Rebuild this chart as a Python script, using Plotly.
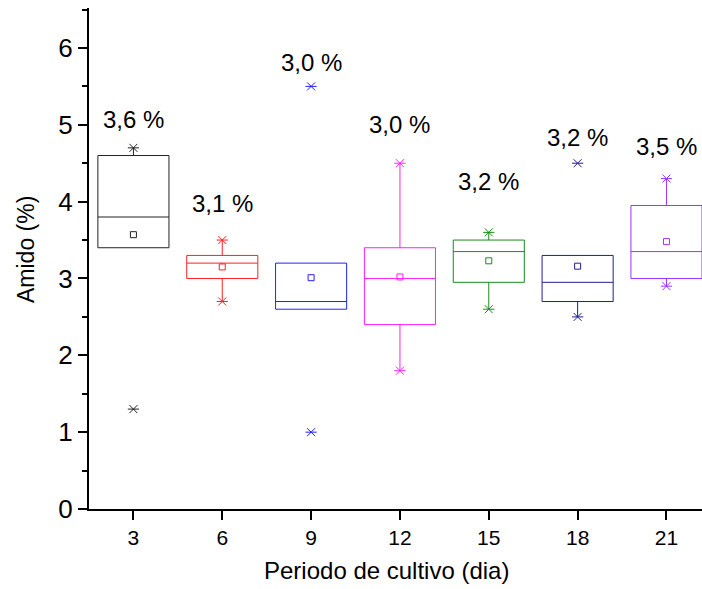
import plotly.graph_objects as go

days = [3, 6, 9, 12, 15, 18, 21]
q1 = [3.40, 3.00, 2.60, 2.40, 2.95, 2.70, 3.00]
median = [3.80, 3.20, 2.70, 3.00, 3.35, 2.95, 3.35]
q3 = [4.60, 3.30, 3.20, 3.40, 3.50, 3.30, 3.95]
lower_fence = [3.40, 2.70, 2.60, 1.80, 2.60, 2.50, 2.90]
upper_fence = [4.70, 3.50, 3.20, 4.50, 3.60, 3.30, 4.30]
means = [3.57, 3.15, 3.01, 3.02, 3.23, 3.16, 3.48]
data_min = [1.30, 2.70, 1.00, 1.80, 2.60, 2.50, 2.90]
data_max = [4.70, 3.50, 5.50, 4.50, 3.60, 4.50, 4.30]
labels = ["3,6 %", "3,1 %", "3,0 %", "3,0 %", "3,2 %", "3,2 %", "3,5 %"]
label_y = [5.07, 3.98, 5.81, 5.01, 4.26, 4.84, 4.72]
colors = ["#222222", "#ff2020", "#2020ff", "#ff20ff", "#1a8a1a", "#20208a", "#9a33ff"]

FONT = "Liberation Sans, Arial, sans-serif"

fig = go.Figure()
for i, d in enumerate(days):
    c = colors[i]
    fig.add_trace(go.Box(
        x=[d], q1=[q1[i]], median=[median[i]], q3=[q3[i]],
        lowerfence=[lower_fence[i]], upperfence=[upper_fence[i]],
        width=2.4, whiskerwidth=0, boxpoints=False,
        fillcolor="rgba(0,0,0,0)", line=dict(color=c, width=1),
        showlegend=False, hoverinfo="skip"))
    fig.add_trace(go.Scatter(
        x=[d], y=[means[i]], mode="markers", showlegend=False,
        marker=dict(symbol="square-open", size=6, color=c, line=dict(width=1, color=c))))
    for sym in ["x-thin-open", "line-ew-open"]:
        fig.add_trace(go.Scatter(
            x=[d, d], y=[data_min[i], data_max[i]], mode="markers", showlegend=False,
            marker=dict(symbol=sym, size=8, color=c, line=dict(width=1, color=c))))
    fig.add_annotation(x=d, y=label_y[i], text=labels[i], showarrow=False,
                       font=dict(family=FONT, size=24, color="black"))

# axis titles placed as annotations for exact positioning
fig.add_annotation(text="Periodo de cultivo (dia)", xref="paper", yref="paper",
                   x=(386 - 89) / 613, y=-(570 - 509) / 501, showarrow=False,
                   xanchor="center", yanchor="middle",
                   font=dict(family=FONT, size=24, color="black"))
fig.add_annotation(text="Amido (%)", xref="paper", yref="paper",
                   x=-(89 - 26) / 613, y=(509 - 250) / 501, showarrow=False,
                   textangle=-90, xanchor="center", yanchor="middle",
                   font=dict(family=FONT, size=23, color="black"))

fig.update_layout(
    width=702, height=589,
    margin=dict(l=89, r=0, t=8, b=80),
    plot_bgcolor="white", paper_bgcolor="white",
    font=dict(family=FONT, color="black"),
    xaxis=dict(
        range=[1.5, 22.2], tickmode="array", tickvals=days,
        ticktext=[str(d) for d in days],
        showgrid=False, zeroline=False, showline=True, linecolor="black", linewidth=2,
        ticks="outside", ticklen=9, tickwidth=2, tickcolor="black",
        tickfont=dict(size=21, family=FONT)),
    yaxis=dict(
        range=[0, 6.52], tickmode="array", tickvals=[0, 1, 2, 3, 4, 5, 6],
        showgrid=False, zeroline=False, showline=True, linecolor="black", linewidth=2,
        ticks="outside", ticklen=9, tickwidth=2, tickcolor="black",
        tickfont=dict(size=26, family=FONT),
        minor=dict(tickvals=[0.5, 1.5, 2.5, 3.5, 4.5, 5.5, 6.5], ticks="outside",
                   ticklen=5, tickwidth=2, tickcolor="black")),
)

fig.write_html("out.html")
